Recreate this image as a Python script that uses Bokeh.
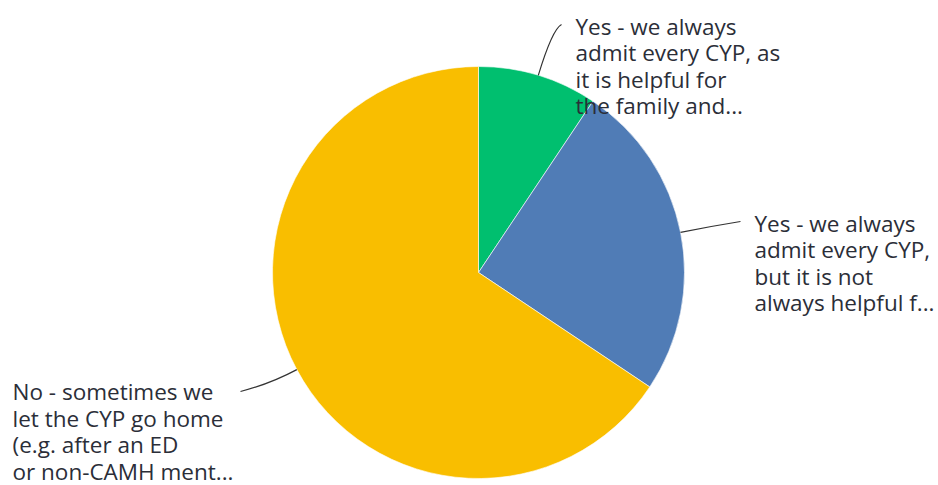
import numpy as np
from bokeh.plotting import figure
from bokeh.models import ColumnDataSource
from bokeh.core.properties import value
from bokeh.embed import file_html
from bokeh.resources import INLINE

# ---- data ----
labels = [
    ["Yes - we always", "admit every CYP, as", "it is helpful for", "the family and..."],
    ["Yes - we always", "admit every CYP,", "but it is not", "always helpful f..."],
    ["No - sometimes we", "let the CYP go home", "(e.g. after an ED", "or non-CAMH ment..."],
]
counts = [3, 8, 21]
colors = ["#00bf6f", "#507cb6", "#f9be00"]

W, H = 938, 485
p = figure(width=W, height=H, x_range=(0, W), y_range=(0, H),
           output_backend="svg", toolbar_location=None,
           min_border=0, outline_line_color=None)
p.axis.visible = False
p.grid.visible = False
p.background_fill_color = "white"

cx, cy, R = 478, H - 272, 206
fr = np.array(counts, dtype=float) / sum(counts)
cum = np.concatenate([[0], np.cumsum(fr)])
start = np.pi / 2 - 2 * np.pi * cum[:-1]
end = np.pi / 2 - 2 * np.pi * cum[1:]
mid = (start + end) / 2

src = ColumnDataSource(dict(start=start, end=end, color=colors))
p.wedge(x=cx, y=cy, radius=R, radius_units="screen", start_angle="start",
        end_angle="end", direction="clock", fill_color="color",
        line_color="white", line_width=0.6, source=src)

# leader lines
ends = [(561, H - 24), (740, H - 221), (240, H - 391)]
ctrl_ext = [48, 30, 30]
for i in range(3):
    x0 = cx + R * np.cos(mid[i]); y0 = cy + R * np.sin(mid[i])
    xc = cx + (R + ctrl_ext[i]) * np.cos(mid[i]); yc = cy + (R + ctrl_ext[i]) * np.sin(mid[i])
    p.quadratic(x0=x0, y0=y0, x1=ends[i][0], y1=ends[i][1], cx=xc, cy=yc,
                line_color="#333333", line_width=1.2)

# labels (first baseline position in pixels from top, line pitch)
pos = [(575, 25.5), (754, 222.5), (12, 391)]
pitch = 26.5
for i in range(3):
    xs = [pos[i][0]] * len(labels[i])
    ys = [H - (pos[i][1] + k * pitch) for k in range(len(labels[i]))]
    p.text(x=xs, y=ys, text=labels[i], text_font=value("Open Sans"),
           text_font_size="22.5px", text_color="#2b2e38", text_baseline="alphabetic",
           text_align="left")

open("out.html", "w").write(file_html(p, INLINE))
